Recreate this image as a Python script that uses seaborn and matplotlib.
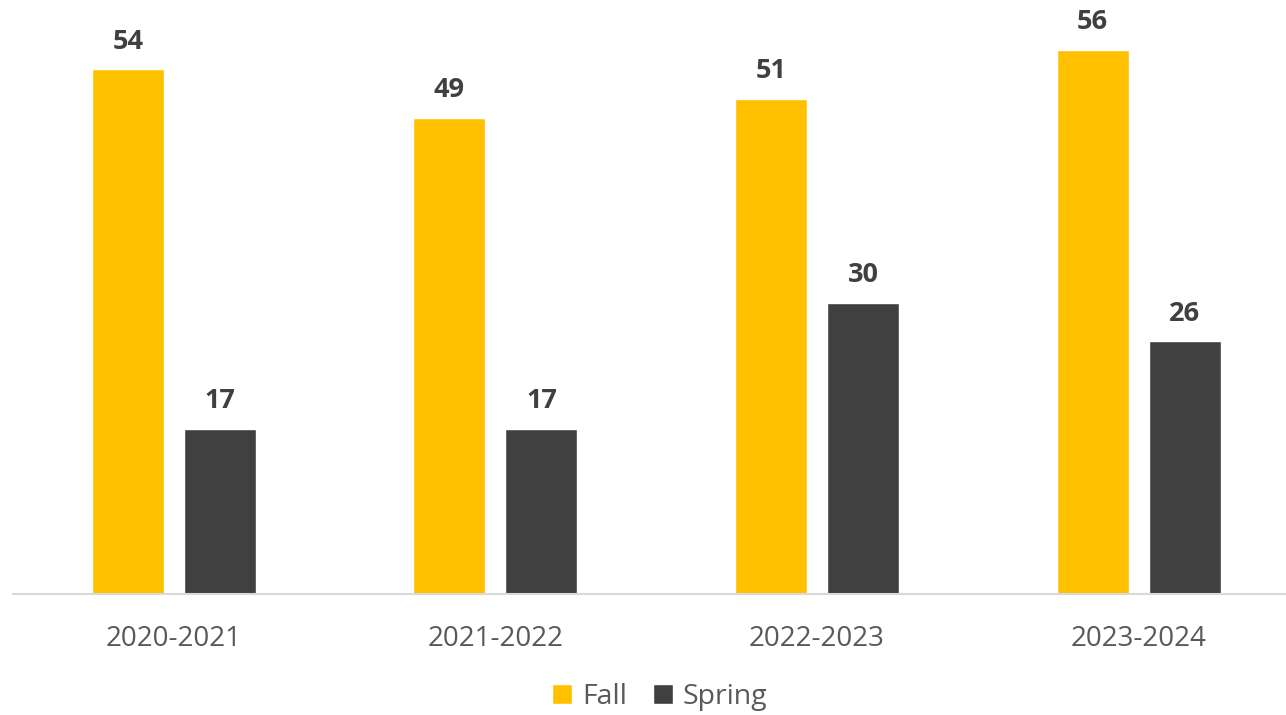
import matplotlib
matplotlib.use("Agg")
import matplotlib.pyplot as plt
import seaborn as sns
import pandas as pd

years = ["2020-2021", "2021-2022", "2022-2023", "2023-2024"]
fall = [54, 49, 51, 56]
spring = [17, 17, 30, 26]
series = ["Fall", "Spring"]
colors = ["#FFC000", "#404040"]

df = pd.DataFrame({
    "year": years * 2,
    "value": fall + spring,
    "term": ["Fall"] * len(years) + ["Spring"] * len(years),
})

sns.set_theme(style="white")
plt.rcParams["font.family"] = ["Open Sans", "DejaVu Sans"]

W, H = 1286, 715
fig = plt.figure(figsize=(W / 100, H / 100), dpi=100)
ax = fig.add_axes([13 / W, (H - 594) / H, (W - 13) / W, 594 / H])

sns.barplot(data=df, x="year", y="value", hue="term", palette=colors,
            width=0.572, gap=0.217, ax=ax, legend=False, saturation=1)

ax.set_xlim(-0.5, -0.5 + (W - 13) / 321.6)
ax.set_ylim(0, 594 / 9.714)

for c in ax.containers:
    ax.bar_label(c, padding=10.5, fontsize=19.5, fontweight="bold", color="#404040")

for s in ["top", "right", "left"]:
    ax.spines[s].set_visible(False)
ax.spines["bottom"].set_color("#D9D9D9")
ax.spines["bottom"].set_linewidth(1.5)
ax.set_yticks([])
ax.set_xlabel("")
ax.set_ylabel("")
ax.tick_params(axis="x", length=0, labelsize=20, labelcolor="#595959", pad=22)

from matplotlib.patches import Patch
handles = [Patch(facecolor=colors[i], label=series[i]) for i in range(2)]
fig.legend(handles=handles, loc="center", bbox_to_anchor=(660 / W, 1 - 697 / H),
           ncol=2, frameon=False, fontsize=20.5, handlelength=0.7, handleheight=0.7,
           handletextpad=0.35, columnspacing=0.9, labelcolor="#595959")

fig.savefig("out.png", dpi=100)
